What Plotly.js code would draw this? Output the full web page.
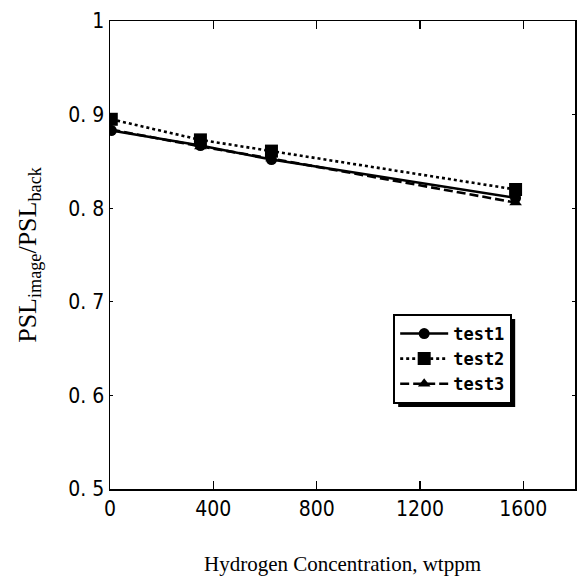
<!DOCTYPE html>
<html>
<head>
<meta charset="utf-8">
<script src="https://cdn.plot.ly/plotly-3.0.1.min.js"></script>
<style>html,body{margin:0;padding:0;background:#fff;}#chart{width:581px;height:577px;}</style>
</head>
<body>
<div id="chart"></div>
<script>
// Data
const hydrogen = [5, 350, 625, 1570];
const test1 = [0.883, 0.867, 0.852, 0.811];
const test2 = [0.895, 0.873, 0.861, 0.820];
const test3 = [0.884, 0.866, 0.853, 0.806];
const seriesNames = ["test1", "test2", "test3"];
const yTickVals = [0.5, 0.6, 0.7, 0.8, 0.9, 1];
const yTickText = ["0. 5", "0. 6", "0. 7", "0. 8", "0. 9", "1"];
const xTickVals = [0, 400, 800, 1200, 1600];
const xTickText = ["0", "400", "800", "1200", "1600"];

const tickFont = {family: "'Liberation Sans Narrow', 'DejaVu Sans Condensed', Arial, sans-serif", size: 21, color: "#000"};
const serif = "'Liberation Serif', 'DejaVu Serif', 'Times New Roman', serif";

const traces = [
  {x: hydrogen, y: test1, name: seriesNames[0], mode: "lines+markers",
   line: {color: "#000", width: 2.6, dash: "solid"},
   marker: {symbol: "circle", size: 11, color: "#000"}},
  {x: hydrogen, y: test2, name: seriesNames[1], mode: "lines+markers",
   line: {color: "#000", width: 2.6, dash: "dot"},
   marker: {symbol: "square", size: 13, color: "#000"}},
  {x: hydrogen, y: test3, name: seriesNames[2], mode: "lines+markers",
   line: {color: "#000", width: 2.6, dash: "9px,4px"},
   marker: {symbol: "triangle-up", size: 11, color: "#000"}}
];

const layout = {
  width: 581, height: 577,
  margin: {l: 110, r: 6, t: 21, b: 88},
  paper_bgcolor: "#fff", plot_bgcolor: "#fff",
  showlegend: true,
  legend: {
    x: 0.609, y: 0.374, xanchor: "left", yanchor: "top",
    bgcolor: "#fff", bordercolor: "#000", borderwidth: 2,
    font: {family: "'DejaVu Sans Mono', 'Liberation Mono', monospace", size: 17, color: "#000", weight: "bold"},
    tracegroupgap: 0, itemwidth: 48
  },
  xaxis: {
    range: [0, 1800], tickvals: xTickVals, ticktext: xTickText,
    ticks: "inside", ticklen: 8, tickwidth: 1.5, tickcolor: "#000",
    showline: true, linecolor: "#000", linewidth: 1.5, mirror: "ticks",
    showgrid: false, zeroline: false, tickfont: tickFont,
    title: {text: "Hydrogen Concentration, wtppm", font: {family: serif, size: 21, color: "#000"}, standoff: 36}
  },
  yaxis: {
    range: [0.5, 1], tickvals: yTickVals, ticktext: yTickText,
    ticks: "inside", ticklen: 3, tickwidth: 1, tickcolor: "#000",
    showline: true, linecolor: "#000", linewidth: 1.5, mirror: "ticks",
    showgrid: false, zeroline: false, tickfont: tickFont,
    title: {text: "PSL<sub>image</sub>/PSL<sub>back</sub>", font: {family: serif, size: 26, color: "#000"}, standoff: 24}
  }
};

Plotly.newPlot("chart", traces, layout, {displayModeBar: false, staticPlot: true}).then(function (gd) {
  // drop shadow behind the legend box, placed from the legend's drawn size
  const bg = gd.querySelector(".legend .bg");
  if (!bg) return;
  const r = bg.getBoundingClientRect();
  const c = gd.getBoundingClientRect();
  const pl = gd._fullLayout._size;
  const off = 4;
  const toX = function (px) { return (px - c.left - pl.l) / pl.w; };
  const toY = function (py) { return 1 - (py - c.top - pl.t) / pl.h; };
  Plotly.relayout(gd, {shapes: [{
    type: "rect", xref: "paper", yref: "paper", layer: "below",
    x0: toX(r.left + off), x1: toX(r.right + off),
    y0: toY(r.bottom + off), y1: toY(r.top + off),
    fillcolor: "#000", line: {width: 0}
  }]});
});
</script>
</body>
</html>
